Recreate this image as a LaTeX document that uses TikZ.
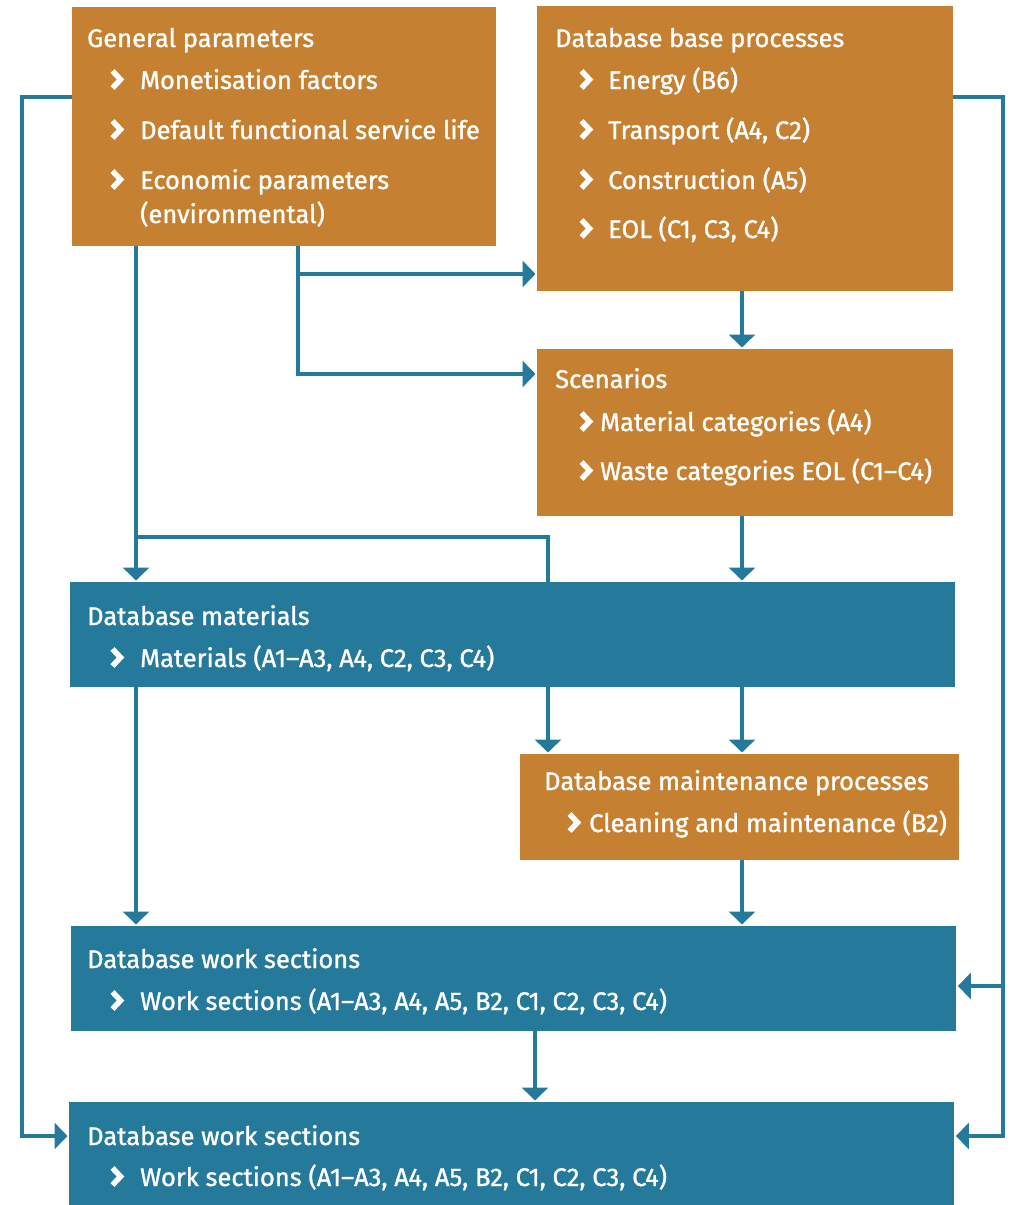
\documentclass[tikz,border=0pt]{standalone}
\usepackage{fontspec}
\setmainfont{Fira Sans}[FakeBold=1.2]
\usetikzlibrary{arrows.meta}
\definecolor{ochre}{RGB}{198,128,50}
\definecolor{teal}{RGB}{37,121,155}
\tikzset{
  obox/.style={fill=ochre, draw=none, anchor=north west, inner sep=0pt, rectangle},
  bbox/.style={fill=teal, draw=none, anchor=north west, inner sep=0pt, rectangle},
  txt/.style={text=white, anchor=base west, inner sep=0pt, font=\fontsize{25.5}{30}\selectfont},
  chevron/.style={draw=white, line width=5.5pt, line join=miter, line cap=butt},
  conn/.style={draw=teal, line width=4pt, line join=miter},
  arr/.style={conn, -{Triangle[width=26pt,length=13pt]}, shorten >=1.5pt},
}
% chevron bullet: left edge x, vertical centre y
\newcommand{\chev}[2]{\draw[chevron] (#1+2.5,#2-8.5) -- (#1+10.5,#2) -- (#1+2.5,#2+8.5);}
\begin{document}
\begin{tikzpicture}[x=1pt,y=-1pt]
\useasboundingbox (0,0) rectangle (1015,1205);

% boxes
\node[obox, minimum width=424pt, minimum height=239pt] (gp)  at (72,7) {};
\node[obox, minimum width=416pt, minimum height=285pt] (dbp) at (537,6) {};
\node[obox, minimum width=416pt, minimum height=167pt] (sc)  at (537,349) {};
\node[bbox, minimum width=885pt, minimum height=105pt] (dm)  at (70,582) {};
\node[obox, minimum width=439pt, minimum height=106pt] (dmp) at (520,754) {};
\node[bbox, minimum width=885pt, minimum height=105pt] (ws1) at (71,926) {};
\node[bbox, minimum width=885pt, minimum height=103pt] (ws2) at (69,1102) {};

% general parameters
\node[txt] (gpT) at (87,47) {General parameters};
\chev{110}{79.5} \node[txt] (gp1) at (140,89) {Monetisation factors};
\chev{110}{129.5} \node[txt] (gp2) at (140,139) {Default functional service life};
\chev{110}{179.5} \node[txt] (gp3) at (140,189) {Economic parameters};
\node[txt] (gp4) at (140,223) {(environmental)};

% base processes
\node[txt] (dbpT) at (555,47) {Database base processes};
\chev{579}{79.5} \node[txt] (dbp1) at (608,89) {Energy (B6)};
\chev{579}{129.5} \node[txt] (dbp2) at (608,139) {Transport (A4, C2)};
\chev{579}{179.5} \node[txt] (dbp3) at (608,189) {Construction (A5)};
\chev{579}{228.5} \node[txt] (dbp4) at (608,238) {EOL (C1, C3, C4)};

% scenarios
\node[txt] (scT) at (555,388) {Scenarios};
\chev{579}{421.5} \node[txt] (sc1) at (600,431) {Material categories (A4)};
\chev{579}{470.5} \node[txt] (sc2) at (600,480) {Waste categories EOL (C1–C4)};

% materials
\node[txt] (dmT) at (87,625) {Database materials};
\chev{110}{657.5} \node[txt] (dm1) at (140,667) {Materials (A1–A3, A4, C2, C3, C4)};

% maintenance processes
\node[txt] (dmpT) at (544,790) {Database maintenance processes};
\chev{567}{822.5} \node[txt] (dmp1) at (589,832) {Cleaning and maintenance (B2)};

% work sections
\node[txt] (ws1T) at (87,968) {Database work sections};
\chev{110}{1000.5} \node[txt] (ws11) at (140,1010) {Work sections (A1–A3, A4, A5, B2, C1, C2, C3, C4)};
\node[txt] (ws2T) at (87,1145) {Database work sections};
\chev{110}{1176.5} \node[txt] (ws21) at (140,1186) {Work sections (A1–A3, A4, A5, B2, C1, C2, C3, C4)};

% connector lanes
\coordinate (xa) at (22,0);
\coordinate (xb) at (136,0);
\coordinate (xc) at (298,0);
\coordinate (xd) at (548,0);
\coordinate (xe) at (742,0);
\coordinate (xf) at (1003,0);
\coordinate (xg) at (535,0);
\coordinate (ya) at (0,97);
\coordinate (yb) at (0,274);
\coordinate (yc) at (0,374);
\coordinate (yd) at (0,537);
\coordinate (ye) at (0,986);
\coordinate (yf) at (0,1136);

% outer loops
\draw[arr] (gp.west |- ya) -- (xa |- ya) -- (xa |- yf) -- (ws2.west |- yf);
\draw[arr] (dbp.east |- ya) -- (xf |- ya) -- (xf |- yf) -- (ws2.east |- yf);
\draw[arr] (xf |- ye) -- (ws1.east |- ye);

% from general parameters
\draw[arr] (gp.south -| xc) -- (xc |- yc) -- (sc.west |- yc);
\draw[arr] (xc |- yb) -- (dbp.west |- yb);
\draw[arr] (gp.south -| xb) -- (dm.north -| xb);
\draw[conn] (xb |- yd) -- (xd |- yd) -- (dm.north -| xd);

% vertical flow
\draw[arr] (dbp.south -| xe) -- (sc.north -| xe);
\draw[arr] (sc.south -| xe) -- (dm.north -| xe);
\draw[arr] (dm.south -| xd) -- (dmp.north -| xd);
\draw[arr] (dm.south -| xe) -- (dmp.north -| xe);
\draw[arr] (dm.south -| xb) -- (ws1.north -| xb);
\draw[arr] (dmp.south -| xe) -- (ws1.north -| xe);
\draw[arr] (ws1.south -| xg) -- (ws2.north -| xg);
\end{tikzpicture}
\end{document}
